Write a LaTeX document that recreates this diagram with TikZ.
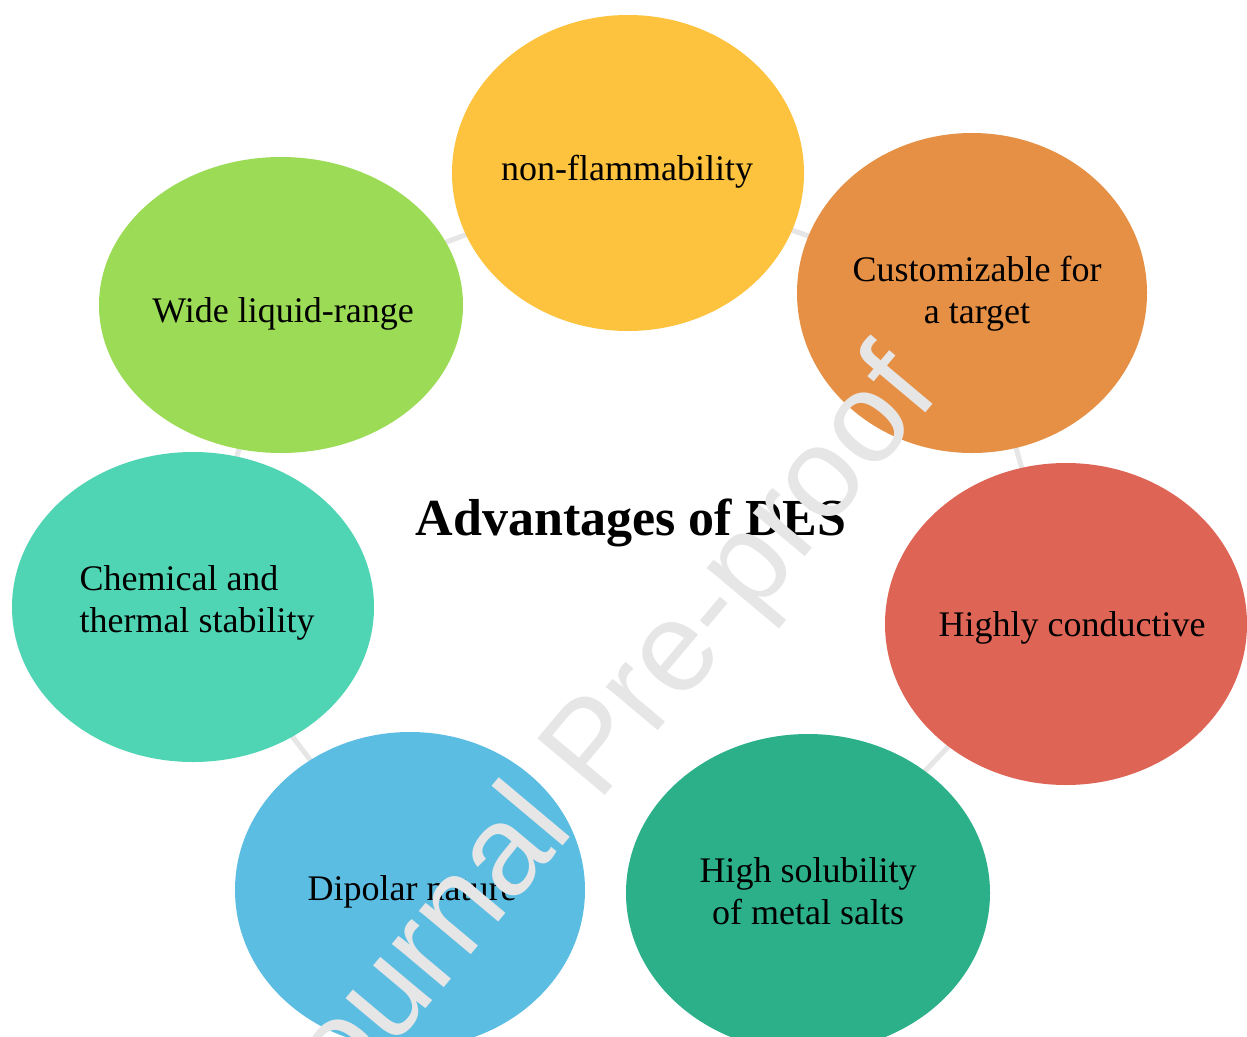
\documentclass[tikz,border=0pt]{standalone}
\usepackage{fontspec}
\setmainfont{Liberation Serif}
\newfontfamily\wmfont{Liberation Sans}
\usetikzlibrary{shapes.geometric}
\definecolor{cyel}{HTML}{FDC33E}
\definecolor{cora}{HTML}{E69046}
\definecolor{cred}{HTML}{DE6555}
\definecolor{cdkg}{HTML}{2BB08A}
\definecolor{cblu}{HTML}{5CBDE3}
\definecolor{ctur}{HTML}{4FD5B3}
\definecolor{cgrn}{HTML}{9BDB55}
\definecolor{cring}{HTML}{E6E6E6}
\tikzset{
  bub/.style={ellipse, inner sep=0pt, draw=none, text=black,
    font=\fontsize{36}{42}\selectfont, align=center},
  ring/.style={draw=cring, line width=5pt},
  wmark/.style={text=cring, font=\wmfont\fontsize{128}{128}\selectfont, rotate=50, inner sep=0pt}
}
\begin{document}
\begin{tikzpicture}[x=1pt,y=-1pt]
\useasboundingbox (0,0) rectangle (1247,1036);
\clip (0,0) rectangle (1247,1036);
\fill[white] (0,0) rectangle (1247,1036);
% positions of bubbles
\coordinate (c1) at (628,173);
\coordinate (c2) at (972,293);
\coordinate (c3) at (1066,624);
\coordinate (c4) at (808,893);
\coordinate (c5) at (410,890);
\coordinate (c6) at (193,607);
\coordinate (c7) at (281,305);
% ring behind
\draw[ring] (c1) -- (c2);
\draw[ring] (c2) -- (c3);
\draw[ring] (c3) -- (c4);
\draw[ring] (c5) -- (c6);
\draw[ring] (c6) -- (c7);
\draw[ring] (c7) -- (c1);
% bubbles
\node[bub, fill=cyel, minimum width=352pt, minimum height=316pt] (n1) at (c1) {};
\node[bub, fill=cora, minimum width=350pt, minimum height=320pt] (n2) at (c2) {};
\node[bub, fill=cred, minimum width=362pt, minimum height=322pt] (n3) at (c3) {};
\node[bub, fill=cdkg, minimum width=364pt, minimum height=318pt] (n4) at (c4) {};
\node[bub, fill=cblu, minimum width=350pt, minimum height=316pt] (n5) at (c5) {};
\node[bub, fill=ctur, minimum width=362pt, minimum height=310pt] (n6) at (c6) {};
\node[bub, fill=cgrn, minimum width=364pt, minimum height=296pt] (n7) at (c7) {};
% labels
\node[bub] (t1) at (627,172) {non-flammability};
\node[bub] (t2) at (977,294) {Customizable for\\a target};
\node[bub] (t3) at (1072,628) {Highly conductive};
\node[bub] (t4) at (808,891) {High solubility\\of metal salts};
\node[bub] (t5) at (412,892) {Dipolar nature};
\node[bub, align=left] (t6) at (197,603) {Chemical and\\thermal stability};
\node[bub] (t7) at (283,314) {Wide liquid-range};
\node[font=\bfseries\fontsize{52}{60}\selectfont, inner sep=0pt] (title) at (631,523) {Advantages of DES};
% watermark
\node[wmark] (wm) at (598,752) {Journal Pre-proof};
\end{tikzpicture}
\end{document}
